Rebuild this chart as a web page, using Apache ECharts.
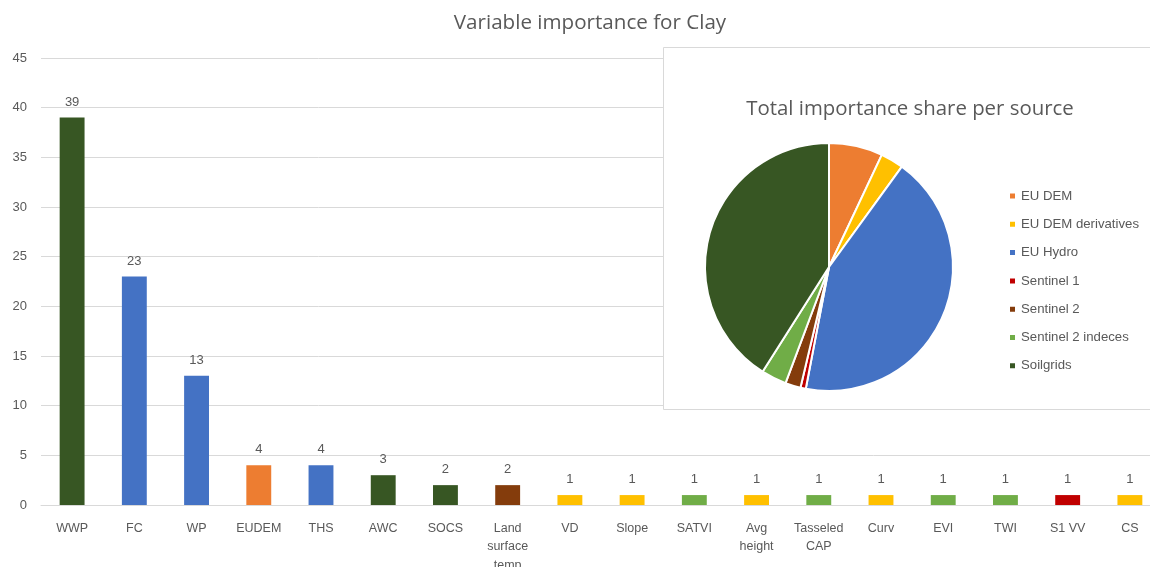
<!DOCTYPE html>
<html>
<head>
<meta charset="utf-8">
<script src="https://cdn.jsdelivr.net/npm/echarts@6/dist/echarts.min.js"></script>
<style>
  html, body { margin: 0; padding: 0; background: #ffffff; }
  #chart { width: 1150px; height: 567px; }
</style>
</head>
<body>
<div id="chart"></div>
<script>
// Variable importance values for clay, one bar per covariate
const categories = ['WWP', 'FC', 'WP', 'EUDEM', 'THS', 'AWC', 'SOCS', 'Land\nsurface\ntemp', 'VD', 'Slope',
  'SATVI', 'Avg\nheight', 'Tasseled\nCAP', 'Curv', 'EVI', 'TWI', 'S1 VV', 'CS'];
const importance = [39, 23, 13, 4, 4, 3, 2, 2, 1, 1, 1, 1, 1, 1, 1, 1, 1, 1];
// data source of each covariate (decides the bar colour)
const barSource = ['Soilgrids', 'EU Hydro', 'EU Hydro', 'EU DEM', 'EU Hydro', 'Soilgrids', 'Soilgrids', 'Sentinel 2',
  'EU DEM derivatives', 'EU DEM derivatives', 'Sentinel 2 indeces', 'EU DEM derivatives', 'Sentinel 2 indeces',
  'EU DEM derivatives', 'Sentinel 2 indeces', 'Sentinel 2 indeces', 'Sentinel 1', 'EU DEM derivatives'];

// total importance share per source (percent)
const sources = ['EU DEM', 'EU DEM derivatives', 'EU Hydro', 'Sentinel 1', 'Sentinel 2', 'Sentinel 2 indeces', 'Soilgrids'];
const sourceShare = [7, 3, 43, 0.7, 2, 3.3, 41];
const sourceColors = ['#ED7D31', '#FFC000', '#4472C4', '#C00000', '#843C0C', '#70AD47', '#375623'];

const yTicks = { min: 0, max: 45, interval: 5 };

const colorOf = s => sourceColors[sources.indexOf(s)];
const textColor = '#595959';
const font = 'Liberation Sans';
const titleFont = 'Open Sans';

const chart = echarts.init(document.getElementById('chart'), null, { renderer: 'canvas' });

chart.setOption({
  animation: false,
  backgroundColor: '#ffffff',
  textStyle: { fontFamily: font },
  title: [
    {
      text: 'Variable importance for Clay',
      left: 585, top: 8, textAlign: 'center',
      textStyle: { fontFamily: titleFont, fontSize: 20.6, fontWeight: 'normal', color: textColor }
    },
    {
      text: 'Total importance share per source',
      left: 905, top: 94, textAlign: 'center', z: 10,
      textStyle: { fontFamily: titleFont, fontSize: 20.4, fontWeight: 'normal', color: textColor }
    }
  ],
  grid: { left: 41, top: 58, width: 1120, height: 447, containLabel: false, outerBoundsMode: 'none' },
  xAxis: {
    type: 'category',
    data: categories,
    axisLine: { lineStyle: { color: '#d9d9d9', width: 1 } },
    axisTick: { show: false },
    axisLabel: { color: textColor, fontSize: 12.5, margin: 14, lineHeight: 18.5, interval: 0, fontFamily: font }
  },
  yAxis: {
    type: 'value',
    min: yTicks.min, max: yTicks.max, interval: yTicks.interval,
    axisLine: { show: false },
    axisTick: { show: false },
    axisLabel: { color: textColor, fontSize: 13, margin: 14, fontFamily: font },
    splitLine: { lineStyle: { color: '#d9d9d9', width: 1 } }
  },
  legend: {
    data: sources,
    orient: 'vertical',
    left: 1003, top: 183,
    icon: 'rect',
    itemWidth: 7, itemHeight: 7,
    itemGap: 12.3,
    z: 10,
    textStyle: { color: textColor, fontSize: 13.2, lineHeight: 16, fontFamily: font }
  },
  graphic: [
    {
      type: 'rect', z: 5,
      shape: { x: 663.5, y: 47.5, width: 500, height: 362 },
      style: { fill: '#ffffff', stroke: '#d9d9d9', lineWidth: 1 }
    }
  ],
  series: [
    {
      type: 'bar',
      barWidth: '40%',
      data: importance.map((v, i) => ({ value: v, itemStyle: { color: colorOf(barSource[i]) } })),
      label: { show: true, position: 'top', distance: 9, color: textColor, fontSize: 13, fontFamily: font }
    },
    {
      type: 'pie',
      z: 10,
      center: [829, 267],
      radius: 124,
      startAngle: 90,
      clockwise: true,
      label: { show: false },
      labelLine: { show: false },
      itemStyle: { borderColor: '#ffffff', borderWidth: 2 },
      data: sources.map((s, i) => ({ name: s, value: sourceShare[i], itemStyle: { color: sourceColors[i] } }))
    }
  ]
});
</script>
</body>
</html>
